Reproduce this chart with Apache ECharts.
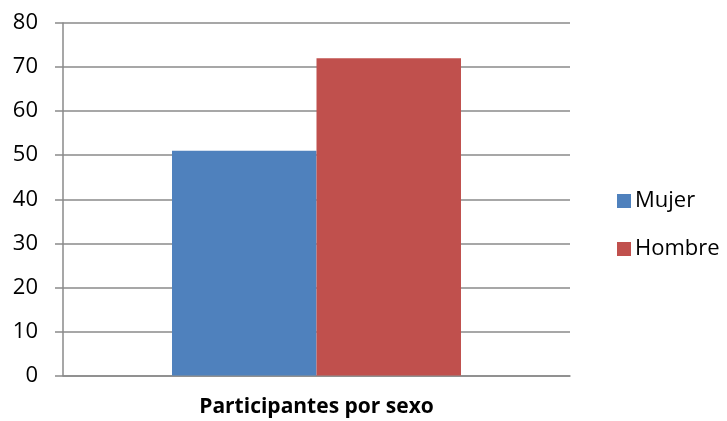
<!DOCTYPE html>
<html>
<head>
<meta charset="utf-8">
<script src="https://cdn.jsdelivr.net/npm/echarts@6/dist/echarts.min.js"></script>
<style>html,body{margin:0;padding:0;background:#fff;}#c{width:727px;height:421px;}</style>
</head>
<body>
<div id="c"></div>
<script>
const categories = ['Participantes por sexo'];
const seriesNames = ['Mujer', 'Hombre'];
const mujerValues = [51];
const hombreValues = [72];
const colors = ['#4F81BD', '#C0504D'];
const FONT = '"Open Sans", "Liberation Sans", sans-serif';

const chart = echarts.init(document.getElementById('c'));
chart.setOption({
  animation: false,
  backgroundColor: '#fff',
  grid: { left: 63, right: 157, top: 23, bottom: 45.5, containLabel: false },
  legend: {
    orient: 'vertical', left: 612, top: 185,
    itemWidth: 14, itemHeight: 14, itemGap: 26,
    icon: 'rect',
    textStyle: { fontFamily: FONT, fontSize: 22, lineHeight: 22, color: '#000', padding: [0,0,0,-1] },
    data: seriesNames
  },
  xAxis: {
    type: 'category', data: categories,
    axisLine: { lineStyle: { color: '#8a8a8a', width: 1.5 } },
    axisTick: { show: false },
    axisLabel: { fontFamily: FONT, fontSize: 21, fontWeight: 'bold', color: '#000', margin: 21 }
  },
  yAxis: {
    type: 'value', min: 0, max: 80, interval: 10,
    axisLine: { show: true, lineStyle: { color: '#8a8a8a', width: 1.5 } },
    axisTick: { show: true, length: 8, lineStyle: { color: '#8a8a8a', width: 1.5 } },
    splitLine: { lineStyle: { color: '#8a8a8a', width: 1.5 } },
    axisLabel: { fontFamily: FONT, fontSize: 22, color: '#000', margin: 25 }
  },
  series: [
    { name: seriesNames[0], type: 'bar', data: mujerValues, itemStyle: { color: colors[0] }, barGap: '0%', barCategoryGap: '43%' },
    { name: seriesNames[1], type: 'bar', data: hombreValues, itemStyle: { color: colors[1] }, barGap: '0%', barCategoryGap: '43%' }
  ]
});
</script>
</body>
</html>
